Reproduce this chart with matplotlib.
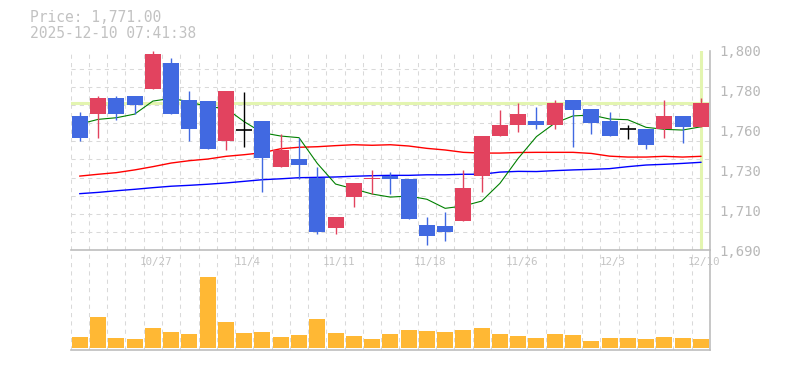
import matplotlib
matplotlib.use("Agg")
import matplotlib.pyplot as plt
import numpy as np

# daily candles, 10/21 .. 12/10 (35 trading days)
opens = [1764, 1765, 1774, 1775, 1779, 1793, 1773, 1772, 1750, 1756, 1761, 1736,
         1740, 1730, 1702, 1719, 1729, 1731, 1729, 1704, 1703, 1706, 1731, 1753,
         1759, 1761, 1759, 1773, 1768, 1761, 1757, 1757, 1757, 1764, 1758]
highs = [1766, 1775, 1775, 1775, 1800, 1796, 1778, 1772, 1778, 1777, 1761, 1754,
         1752, 1736, 1708, 1727, 1734, 1733, 1729, 1708, 1711, 1734, 1753, 1767,
         1771, 1769, 1773, 1773, 1768, 1766, 1759, 1757, 1773, 1764, 1774]
lows = [1750, 1752, 1762, 1765, 1779, 1765, 1750, 1746, 1745, 1747, 1722, 1736,
        1729, 1699, 1699, 1714, 1721, 1721, 1707, 1693, 1695, 1706, 1722, 1753,
        1755, 1757, 1757, 1747, 1754, 1753, 1751, 1746, 1752, 1749, 1758]
closes = [1752, 1774, 1765, 1770, 1798, 1765, 1757, 1746, 1778, 1756, 1741, 1745,
          1737, 1700, 1708, 1727, 1730, 1729, 1707, 1698, 1700, 1724, 1753, 1759,
          1765, 1759, 1771, 1767, 1760, 1753, 1757, 1748, 1764, 1758, 1771]
volumes = [33, 93, 30, 27, 60, 48, 42, 213, 78, 45, 48, 33, 39, 87, 45, 36, 27, 42,
           54, 51, 48, 54, 60, 42, 36, 30, 42, 39, 21, 30, 30, 27, 33, 30, 27]

# moving averages
ma_short = [1759.5, 1762.1, 1763.0, 1765.0, 1772.2, 1773.7, 1771.8, 1769.0, 1768.2,
            1760.8, 1754.7, 1752.9, 1752.0, 1737.8, 1726.4, 1723.7, 1720.9, 1719.2,
            1719.8, 1718.0, 1713.0, 1714.3, 1717.0, 1726.8, 1740.6, 1752.6, 1760.0,
            1764.0, 1764.5, 1762.3, 1761.9, 1757.7, 1756.6, 1756.2, 1758.0]
ma_mid = [1730.8, 1731.8, 1732.7, 1734.2, 1736.0, 1738.0, 1739.3, 1740.2, 1741.7,
          1742.6, 1743.7, 1745.9, 1746.7, 1747.0, 1747.6, 1748.1, 1747.8, 1748.1,
          1747.4, 1746.1, 1745.2, 1743.9, 1743.5, 1743.5, 1743.8, 1743.9, 1743.9,
          1743.9, 1743.3, 1741.8, 1741.3, 1741.3, 1741.7, 1741.3, 1741.7]
ma_long = [1721.1, 1721.8, 1722.7, 1723.5, 1724.4, 1725.2, 1725.7, 1726.3, 1727.0,
           1727.9, 1728.8, 1729.3, 1729.9, 1730.1, 1730.3, 1730.7, 1731.0, 1731.2,
           1731.2, 1731.5, 1731.5, 1731.8, 1731.8, 1733.0, 1733.4, 1733.3, 1733.8,
           1734.2, 1734.5, 1734.9, 1736.0, 1736.9, 1737.3, 1737.8, 1738.4]

date_idx = [4, 9, 14, 19, 24, 29, 34]
date_labels = ["10/27", "11/4", "11/11", "11/18", "11/26", "12/3", "12/10"]
ytick_vals = [1800, 1778, 1756, 1734, 1712, 1690]
ytick_labels = ["1,800", "1,780", "1,760", "1,730", "1,710", "1,690"]
price_now = 1771.0
title_lines = ["Price: 1,771.00", "2025-12-10 07:41:38"]

UP = "#e2435f"
DOWN = "#4169e1"
LIME = "#e3f5b0"
GRID = "#d9d9d9"
AXIS = "#bdbdbd"
TEXT = "#b8b8b8"
MONO = "DejaVu Sans Mono"

n = len(closes)
x = np.arange(n)

fig = plt.figure(figsize=(7.85, 3.7), dpi=100)
# volume panel first so the price panel's date labels sit on top of it
axv = fig.add_axes([70.7 / 785, 1 - 350 / 370, 639.3 / 785, 100 / 370])
ax = fig.add_axes([70.7 / 785, 1 - 250 / 370, 639.3 / 785, 199.3 / 370])
ax.set_facecolor("none")


def style_axes(a):
    a.set_xlim(-0.5, n - 0.5)
    a.set_xticks(np.arange(-0.5, n, 1), minor=True)
    a.grid(which="minor", axis="x", color=GRID, lw=0.75, ls=(0, (4, 4)))
    for side in ("top", "left"):
        a.spines[side].set_visible(False)
    for side in ("bottom", "right"):
        a.spines[side].set_color(AXIS)
        a.spines[side].set_linewidth(1.2)
    a.tick_params(which="both", length=0)
    a.set_axisbelow(True)


# price panel
style_axes(ax)
ax.set_ylim(1690, 1800)
ax.set_yticks(np.arange(1690, 1801, 10), minor=True)
ax.grid(which="minor", axis="y", color=GRID, lw=0.75, ls=(0, (4, 4)))
ax.yaxis.tick_right()
ax.set_yticks(ytick_vals)
ax.set_yticklabels(ytick_labels, family=MONO, fontsize=10, color=TEXT)
ax.tick_params(axis="y", pad=7)
ax.set_xticks([i + 0.18 for i in date_idx])
ax.set_xticklabels(date_labels, family=MONO, fontsize=7.8, color="#c4c4c4")
ax.tick_params(axis="x", pad=5)

ax.axhline(price_now, color=LIME, lw=2.2, zorder=1)
ax.axvline(x[-1], color=LIME, lw=2.2, zorder=1)

ax.plot(x, ma_long, color="#0000ff", lw=1.0, zorder=2)
ax.plot(x, ma_mid, color="#ff0000", lw=1.0, zorder=2)
ax.plot(x, ma_short, color="#008000", lw=0.8, zorder=2)

for i in range(n):
    o, h, l, c = opens[i], highs[i], lows[i], closes[i]
    if c > o:
        col = UP
    elif c < o:
        col = DOWN
    else:
        col = "black"
    ax.vlines(x[i], l, h, color=col, lw=1.0, zorder=3)
    if c == o:
        ax.hlines(c, x[i] - 0.44, x[i] + 0.44, color=col, lw=1.2, zorder=3)
    else:
        ax.bar(x[i], abs(c - o), bottom=min(o, c), width=0.875, color=col,
               linewidth=0, zorder=4)

# volume panel
style_axes(axv)
axv.set_ylim(-6, 292.7)
axv.set_yticks([])
axv.set_xticks([])
axv.bar(x, volumes, width=0.875, color="#ffb834", linewidth=0, zorder=2)

fig.text(30 / 785, 1 - 17.5 / 370, title_lines[0], family=MONO, fontsize=10.5,
         color="#c2c2c2", va="center", ha="left")
fig.text(30 / 785, 1 - 33 / 370, title_lines[1], family=MONO, fontsize=10.5,
         color="#c2c2c2", va="center", ha="left")

fig.savefig("out.png", dpi=100)
